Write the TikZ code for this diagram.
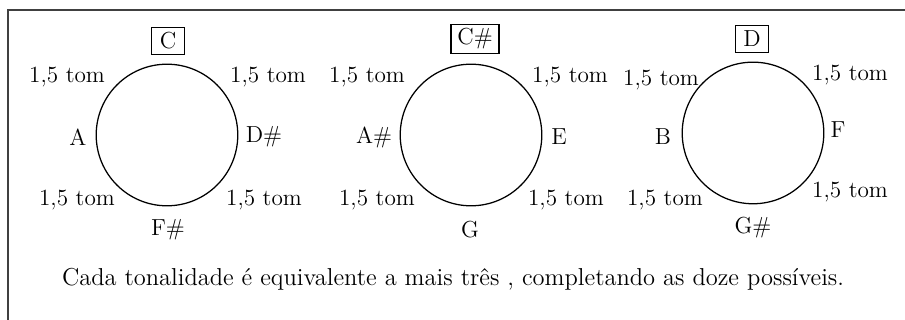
\documentclass[tikz,border=0pt]{standalone}
\usepackage{tikz}

\begin{document}
\begin{tikzpicture}[scale=1.0,
  ring/.style={draw, semithick, circle, minimum size=2.36cm, inner sep=0pt},
  keybox/.style={draw, semithick, minimum width=0.55cm, minimum height=0.46cm, inner xsep=3pt, inner ysep=2pt, font=\fontsize{11}{13}\selectfont},
  lbl/.style={font=\fontsize{11}{13}\selectfont}]
  \useasboundingbox (0,0) rectangle (15.083,5.333);
  % frame (cut at right and bottom)
  \draw[thick, black!75] (0.133,-0.2) -- (0.133,5.167) -- (15.3,5.167);
  % circles
  \node[ring] (ringC) at (2.783,3.083) {};
  \node[ring] (ringCs) at (7.850,3.083) {};
  \node[ring] (ringD) at (12.550,3.117) {};
  % C
  \node[keybox] (keyC) at (2.800,4.650) {C};
  \node[lbl] (tC1) at (1.117,4.050) {1,5 tom};
  \node[lbl] (tC2) at (4.467,4.050) {1,5 tom};
  \node[lbl] (nA) at (1.300,3.050) {A};
  \node[lbl] (nDs) at (4.400,3.050) {D\#};
  \node[lbl] (tC3) at (1.283,2.000) {1,5 tom};
  \node[lbl] (tC4) at (4.400,2.000) {1,5 tom};
  \node[lbl] (nFs) at (2.800,1.500) {F\#};
  % C#
  \node[keybox] (keyCs) at (7.917,4.683) {C\#};
  \node[lbl] (tCs1) at (6.117,4.050) {1,5 tom};
  \node[lbl] (tCs2) at (9.500,4.050) {1,5 tom};
  \node[lbl] (nAs) at (6.233,3.050) {A\#};
  \node[lbl] (nE) at (9.317,3.050) {E};
  \node[lbl] (tCs3) at (6.283,2.000) {1,5 tom};
  \node[lbl] (tCs4) at (9.433,2.000) {1,5 tom};
  \node[lbl] (nG) at (7.833,1.500) {G};
  % D
  \node[keybox] (keyD) at (12.533,4.683) {D};
  \node[lbl] (tD1) at (11.017,4.000) {1,5 tom};
  \node[lbl] (tD2) at (14.167,4.083) {1,5 tom};
  \node[lbl] (nB) at (11.050,3.050) {B};
  \node[lbl] (nF) at (13.967,3.167) {F};
  \node[lbl] (tD3) at (11.083,2.000) {1,5 tom};
  \node[lbl] (tD4) at (14.167,2.133) {1,5 tom};
  \node[lbl] (nGs) at (12.550,1.533) {G\#};
  % note
  \node[anchor=base, font=\fontsize{11.6}{14}\selectfont] (note) at (7.550,0.583)
    {Cada tonalidade é equivalente a mais três , completando as doze possíveis.};
\end{tikzpicture}
\end{document}
